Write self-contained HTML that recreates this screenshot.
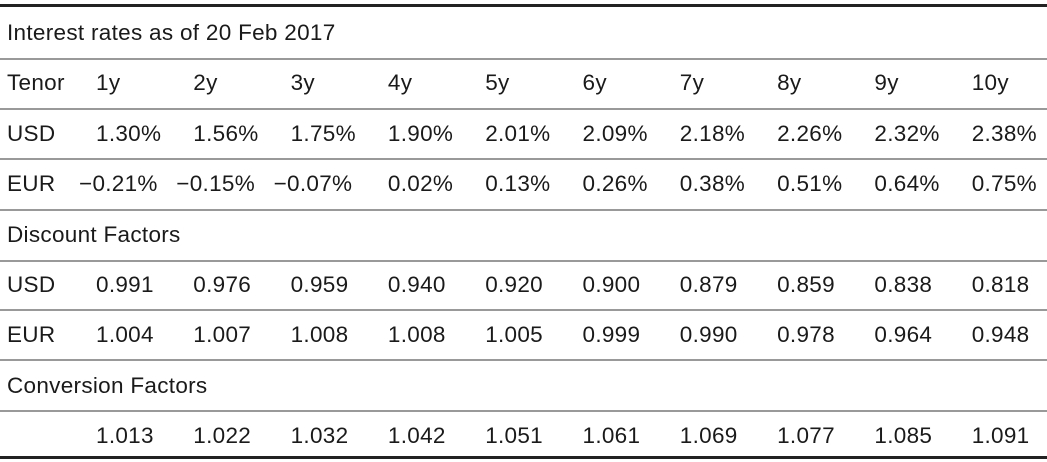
<!DOCTYPE html>
<html><head><meta charset="utf-8"><style>
html,body{margin:0;padding:0;background:#fff;}
#t{position:relative;width:1047px;height:462px;font-family:"Liberation Sans",sans-serif;font-size:22.5px;color:#1a1a1a;letter-spacing:0.3px;}
.l{position:absolute;left:0;width:1047px;}
.c{position:absolute;line-height:24px;white-space:nowrap;}
</style></head><body>
<div id="t"></div>
<script>
const tenors=["1y","2y","3y","4y","5y","6y","7y","8y","9y","10y"];
const usdRates=["1.30%","1.56%","1.75%","1.90%","2.01%","2.09%","2.18%","2.26%","2.32%","2.38%"];
const eurRates=["\u22120.21%","\u22120.15%","\u22120.07%","0.02%","0.13%","0.26%","0.38%","0.51%","0.64%","0.75%"];
const usdDF=["0.991","0.976","0.959","0.940","0.920","0.900","0.879","0.859","0.838","0.818"];
const eurDF=["1.004","1.007","1.008","1.008","1.005","0.999","0.990","0.978","0.964","0.948"];
const convF=["1.013","1.022","1.032","1.042","1.051","1.061","1.069","1.077","1.085","1.091"];
const t=document.getElementById('t');
function line(y,h,col,name){const d=document.createElement('div');d.className='l';d.style.top=y+'px';d.style.height=h+'px';d.style.background=col;


t.appendChild(d);}
function cell(x,row,txt,name){const d=document.createElement('div');d.className='c';d.style.left=x+'px';d.style.top=(33+50.4*row-12)+'px';d.textContent=txt;


t.appendChild(d);}
line(4,3,'#222','top-rule');
[58,108,158,209,260,309,359,410].forEach((y,i)=>line(y,2,'#999','row-divider'));
line(456,3,'#222','bottom-rule');
cell(7,0,"Interest rates as of 20 Feb 2017",'table-title');
cell(7,1,"Tenor",'tenor-label');cell(7,2,"USD",'usd-label');cell(7,3,"EUR",'eur-label');
cell(7,4,"Discount Factors",'discount-factors-header');
cell(7,5,"USD",'usd-df-label');cell(7,6,"EUR",'eur-df-label');
cell(7,7,"Conversion Factors",'conversion-factors-header');
const rows=[[1,tenors,'tenor'],[2,usdRates,'usd-rate'],[3,eurRates,'eur-rate'],[5,usdDF,'usd-df'],[6,eurDF,'eur-df'],[8,convF,'conversion-factor']];
rows.forEach(([r,arr,nm])=>arr.forEach((v,i)=>{let x=96+97.3*i;if(v[0]==='\u2212')x-=17;cell(x,r,v,nm+'-'+tenors[i]);}));
</script>
</body></html>
